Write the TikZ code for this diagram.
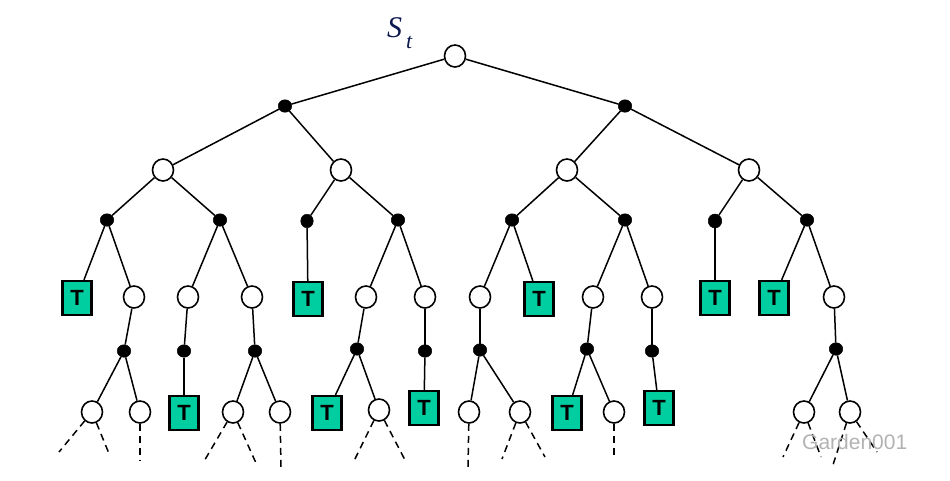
\documentclass[tikz,border=0pt]{standalone}
\usepackage{fontspec}
\setmainfont{Liberation Serif}
\setsansfont{Liberation Sans}
\usetikzlibrary{shapes.geometric}
\definecolor{tgreen}{RGB}{0,206,160}
\definecolor{navyblue}{RGB}{12,24,80}
\begin{document}
\begin{tikzpicture}[x=1pt,y=-1pt,
  state/.style={ellipse,draw,line width=1.6pt,fill=white,minimum width=21pt,minimum height=22pt,inner sep=0pt},
  chance/.style={ellipse,fill=black,draw=black,line width=0.5pt,minimum width=13.5pt,minimum height=12.5pt,inner sep=0pt},
  term/.style={rectangle,draw,line width=2.2pt,fill=tgreen,minimum width=29pt,minimum height=34pt,inner sep=0pt,font=\sffamily\bfseries\fontsize{22}{22}\selectfont},
  edge/.style={line width=1.5pt},
  fut/.style={line width=1.5pt,dash pattern=on 7pt off 5pt}]
\useasboundingbox (0,0) rectangle (950,480);
% label
\node[anchor=base west,inner sep=0pt,text=navyblue,font=\itshape\fontsize{30}{30}\selectfont] (S) at (387,37) {S};
\node[anchor=base west,inner sep=0pt,text=navyblue,font=\itshape\fontsize{22}{22}\selectfont] (tsub) at (406,48) {t};
% level 0-2
\node[state] (root) at (455,56) {};
\node[chance] (c1) at (285,106) {};
\node[chance] (c2) at (625,106) {};
\node[state] (s1) at (163,170) {};
\node[state] (s2) at (341,170) {};
\node[state] (s3) at (567,170) {};
\node[state] (s4) at (749,170) {};
% level 3
\node[chance] (a1) at (107,220) {};
\node[chance] (a2) at (220,220) {};
\node[chance,minimum height=13.5pt,minimum width=12.5pt] (a3) at (307,221) {};
\node[chance] (a4) at (398,220) {};
\node[chance] (a5) at (512,220) {};
\node[chance] (a6) at (625,220) {};
\node[chance,minimum height=14pt] (a7) at (715,221) {};
\node[chance] (a8) at (807,220) {};
% level 4
\node[term] (t1) at (77,298) {T};
\node[state] (u1) at (134,297) {};
\node[state] (u2) at (188,297) {};
\node[state] (u3) at (252,297) {};
\node[term] (t2) at (308,299) {T};
\node[state] (u4) at (366,297) {};
\node[state] (u5) at (425,297) {};
\node[state] (u6) at (480,297) {};
\node[term] (t3) at (539,299) {T};
\node[state] (u7) at (593,297) {};
\node[state] (u8) at (652,297) {};
\node[term] (t4) at (715,298) {T};
\node[term] (t5) at (774,298) {T};
\node[state] (u9) at (834,297) {};
% level 5
\node[chance] (b1) at (124,351) {};
\node[chance] (b2) at (184,351) {};
\node[chance] (b3) at (255,351) {};
\node[chance] (b4) at (357,349) {};
\node[chance] (b5) at (425,351) {};
\node[chance] (b6) at (480,350) {};
\node[chance] (b7) at (587,349) {};
\node[chance] (b8) at (652,351) {};
\node[chance] (b9) at (836,349) {};
% level 6
\node[state] (v1) at (92,412) {};
\node[state] (v2) at (140,412) {};
\node[term] (t6) at (184,413) {T};
\node[state] (v3) at (233,412) {};
\node[state] (v4) at (280,412) {};
\node[term] (t7) at (327,413) {T};
\node[state] (v5) at (379,410) {};
\node[term] (t8) at (424,408) {T};
\node[state] (v6) at (469,412) {};
\node[state] (v7) at (520,412) {};
\node[term] (t9) at (567,413) {T};
\node[state] (v8) at (614,412) {};
\node[term] (t10) at (659,408) {T};
\node[state] (v9) at (804,412) {};
\node[state] (v10) at (850,412) {};
% dashed ends
\coordinate (d1) at (59,452);
\coordinate (d2) at (110,456);
\coordinate (d3) at (140,461);
\coordinate (d4) at (203,463);
\coordinate (d5) at (256,463);
\coordinate (d6) at (281,467);
\coordinate (d7) at (353,463);
\coordinate (d8) at (405,460);
\coordinate (d9) at (468,467);
\coordinate (d10) at (502,459);
\coordinate (d11) at (545,457);
\coordinate (d12) at (614,459);
\coordinate (d13) at (783,457);
\coordinate (d14) at (821,457);
\coordinate (d15) at (832,468);
\coordinate (d16) at (877,452);
% edges
\begin{scope}[edge]
\draw (root) -- (c1); \draw (root) -- (c2);
\draw (c1) -- (s1); \draw (c1) -- (s2);
\draw (c2) -- (s3); \draw (c2) -- (s4);
\draw (s1) -- (a1); \draw (s1) -- (a2);
\draw (s2) -- (a3); \draw (s2) -- (a4);
\draw (s3) -- (a5); \draw (s3) -- (a6);
\draw (s4) -- (a7); \draw (s4) -- (a8);
\draw (a1) -- (t1); \draw (a1) -- (u1);
\draw (a2) -- (u2); \draw (a2) -- (u3);
\draw (a3) -- (t2);
\draw (a4) -- (u4); \draw (a4) -- (u5);
\draw (a5) -- (u6); \draw (a5) -- (t3);
\draw (a6) -- (u7); \draw (a6) -- (u8);
\draw (a7) -- (t4);
\draw (a8) -- (t5); \draw (a8) -- (u9);
\draw (u1) -- (b1); \draw (u2) -- (b2); \draw (u3) -- (b3);
\draw (u4) -- (b4); \draw (u5) -- (b5); \draw (u6) -- (b6);
\draw (u7) -- (b7); \draw (u8) -- (b8); \draw (u9) -- (b9);
\draw (b1) -- (v1); \draw (b1) -- (v2);
\draw (b2) -- (t6);
\draw (b3) -- (v3); \draw (b3) -- (v4);
\draw (b4) -- (t7); \draw (b4) -- (v5);
\draw (b5) -- (t8);
\draw (b6) -- (v6); \draw (b6) -- (v7);
\draw (b7) -- (t9); \draw (b7) -- (v8);
\draw (b8) -- (t10);
\draw (b9) -- (v9); \draw (b9) -- (v10);
\end{scope}
\begin{scope}[fut]
\draw (v1) -- (d1); \draw (v1) -- (d2);
\draw (v2) -- (d3);
\draw (v3) -- (d4); \draw (v3) -- (d5);
\draw (v4) -- (d6);
\draw (v5) -- (d7); \draw (v5) -- (d8);
\draw (v6) -- (d9);
\draw (v7) -- (d10); \draw (v7) -- (d11);
\draw (v8) -- (d12);
\draw (v9) -- (d13); \draw (v9) -- (d14);
\draw (v10) -- (d15); \draw (v10) -- (d16);
\end{scope}
% watermark
\node[anchor=west,inner sep=0pt,text=gray!60,font=\sffamily\fontsize{21}{21}\selectfont] (wm) at (802,442) {Garden001};
\end{tikzpicture}
\end{document}
